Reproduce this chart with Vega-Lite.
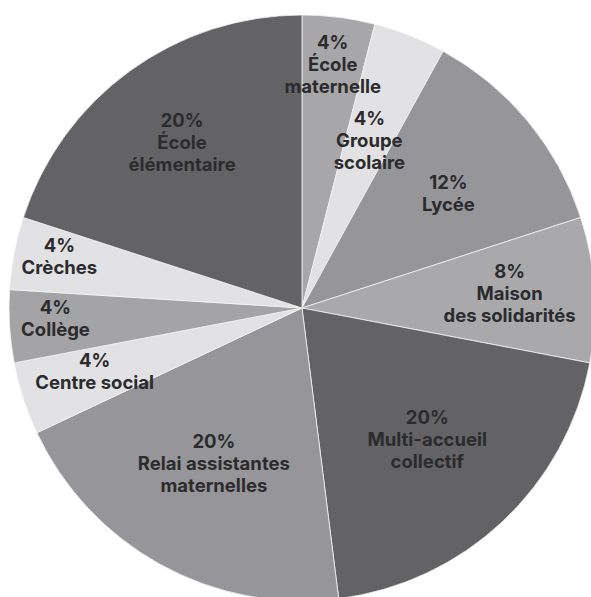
{
  "$schema": "https://vega.github.io/schema/vega-lite/v6.json",
  "width": 578,
  "height": 578,
  "autosize": {"type": "none"},
  "padding": {"left": 13, "top": 19, "right": 0, "bottom": 0},
  "background": "#ffffff",
  "view": {"stroke": null},
  "config": {"text": {"font": "Inter", "fontWeight": "bold", "fontSize": 18.5, "lineBreak": "\n", "lineHeight": 22, "align": "center", "baseline": "middle", "fill": "#2b2b2d"}},
  "data": {
    "values": [
      {"i": 1, "name": "École maternelle", "value": 4, "label": "4%\nÉcole\nmaternelle"},
      {"i": 2, "name": "Groupe scolaire", "value": 4, "label": "4%\nGroupe\nscolaire"},
      {"i": 3, "name": "Lycée", "value": 12, "label": "12%\nLycée"},
      {"i": 4, "name": "Maison des solidarités", "value": 8, "label": "8%\nMaison\ndes solidarités"},
      {"i": 5, "name": "Multi-accueil collectif", "value": 20, "label": "20%\nMulti-accueil\ncollectif"},
      {"i": 6, "name": "Relai assistantes maternelles", "value": 20, "label": "20%\nRelai assistantes\nmaternelles"},
      {"i": 7, "name": "Centre social", "value": 4, "label": "4%\nCentre social"},
      {"i": 8, "name": "Collège", "value": 4, "label": "4%\nCollège"},
      {"i": 9, "name": "Crèches", "value": 4, "label": "4%\nCrèches"},
      {"i": 10, "name": "École élémentaire", "value": 20, "label": "20%\nÉcole\nélémentaire"}
    ]
  },
  "encoding": {
    "theta": {"field": "value", "type": "quantitative", "stack": true},
    "order": {"field": "i", "type": "quantitative"}
  },
  "layer": [
    {
      "mark": {"type": "arc", "outerRadius": 293, "stroke": "#f4f4f4", "strokeWidth": 0.8},
      "encoding": {
        "color": {
          "field": "name",
          "type": "nominal",
          "legend": null,
          "scale": {
            "domain": ["École maternelle", "Groupe scolaire", "Lycée", "Maison des solidarités", "Multi-accueil collectif", "Relai assistantes maternelles", "Centre social", "Collège", "Crèches", "École élémentaire"],
            "range": ["#a7a7aa", "#e2e2e4", "#96969a", "#a9a9ac", "#636366", "#96969a", "#e2e2e4", "#a4a4a7", "#e2e2e4", "#636366"]
          }
        }
      }
    },
    {
      "mark": {"type": "text", "radius": 245, "dy": -22},
      "encoding": {
        "text": {"condition": {"test": "datum.name == 'École maternelle'", "field": "label"}, "value": ""}
      }
    },
    {
      "mark": {"type": "text", "radius": 247, "dy": -16},
      "encoding": {
        "text": {"condition": {"test": "indexof(['Collège','Crèches'], datum.name) >= 0", "field": "label"}, "value": ""}
      }
    },
    {
      "mark": {"type": "text", "radius": 218, "dy": -14},
      "encoding": {
        "text": {"condition": {"test": "datum.name == 'Centre social'", "field": "label"}, "value": ""}
      }
    },
    {
      "mark": {"type": "text", "radius": 204, "dy": -22},
      "encoding": {
        "text": {"condition": {"test": "datum.name == 'École élémentaire'", "field": "label"}, "value": ""}
      }
    },
    {
      "mark": {"type": "text", "radius": 208, "dy": -23},
      "encoding": {
        "text": {"condition": {"test": "datum.name == 'Maison des solidarités'", "field": "label"}, "value": ""}
      }
    },
    {
      "mark": {"type": "text", "radius": 183, "dy": -19},
      "encoding": {
        "text": {"condition": {"test": "datum.name == 'Groupe scolaire'", "field": "label"}, "value": ""}
      }
    },
    {
      "mark": {"type": "text", "radius": 183, "dy": -23},
      "encoding": {
        "text": {"condition": {"test": "datum.name == 'Multi-accueil collectif'", "field": "label"}, "value": ""}
      }
    },
    {
      "mark": {"type": "text", "radius": 183, "dy": -26},
      "encoding": {
        "text": {"condition": {"test": "datum.name == 'Relai assistantes maternelles'", "field": "label"}, "value": ""}
      }
    },
    {
      "mark": {"type": "text", "radius": 190, "dy": -4},
      "encoding": {
        "text": {"condition": {"test": "datum.name == 'Lycée'", "field": "label"}, "value": ""}
      }
    }
  ]
}
